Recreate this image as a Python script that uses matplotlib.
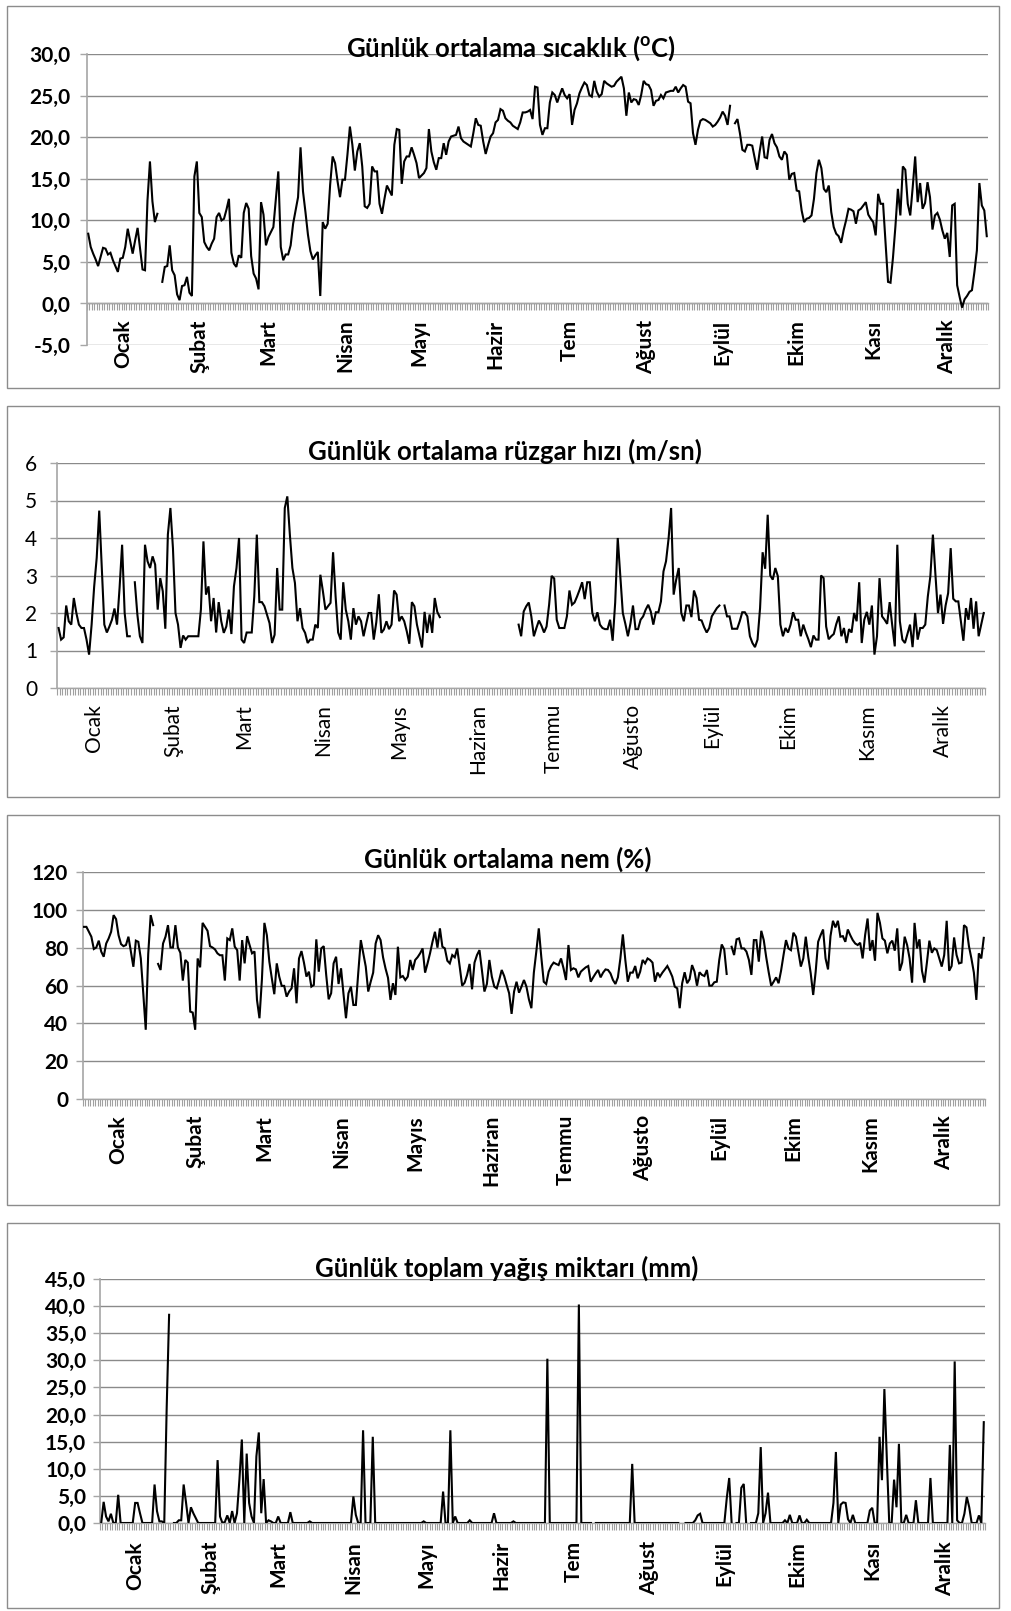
import numpy as np
import matplotlib
matplotlib.use("Agg")
import matplotlib.pyplot as plt
from matplotlib.patches import Rectangle

plt.rcParams['font.family'] = ['Lato', 'DejaVu Sans']
plt.rcParams['mathtext.fontset'] = 'custom'
plt.rcParams['mathtext.rm'] = 'Lato:bold'
plt.rcParams['mathtext.bf'] = 'Lato:bold'

N = None
# ---------------- daily data (day 0 = 1 Ocak) ----------------
temperature = [
    8.4, 6.8, 6.0, 5.3, 4.5, 5.6, 6.7, 6.6, 5.9, 6.1,
    5.2, 4.5, 3.8, 5.4, 5.5, 6.8, 9.0, 7.5, 6.0, 7.6,
    9.1, 6.6, 4.1, 4.0, 12.4, 17.1, 12.3, 9.8, 10.8, N,
    2.6, 4.4, 4.5, 7.0, 4.0, 3.4, 1.1, 0.4, 2.1, 2.2,
    3.2, 1.3, 0.9, 15.3, 17.1, 10.9, 10.4, 7.4, 6.8, 6.4,
    7.2, 7.8, 10.4, 10.9, 10.0, 10.2, 11.3, 12.6, 6.1, 4.8,
    4.4, 5.8, 5.5, 10.9, 12.1, 11.4, 5.7, 3.6, 3.0, 1.7,
    12.2, 10.7, 7.0, 8.0, 8.6, 9.2, 12.5, 15.9, 6.8, 5.2,
    5.9, 5.9, 7.0, 9.6, 11.2, 12.8, 18.8, 13.5, 11.0, 8.3,
    6.3, 5.3, 5.8, 6.2, 0.9, 9.8, 9.0, 9.6, 14.3, 17.7,
    16.9, 14.7, 12.8, 14.9, 14.9, 17.9, 21.3, 19.1, 16.0, 18.3,
    19.3, 16.5, 11.7, 11.5, 12.0, 16.5, 15.9, 15.9, 12.0, 10.8,
    12.6, 14.2, 13.6, 13.0, 19.1, 21.0, 20.9, 14.4, 17.1, 17.7,
    17.7, 18.8, 17.9, 16.9, 15.1, 15.4, 15.7, 16.3, 21.0, 18.3,
    17.0, 16.1, 17.5, 17.5, 19.3, 17.9, 19.5, 20.1, 20.2, 20.3,
    21.3, 19.9, 19.5, 19.3, 19.1, 18.9, 20.5, 22.3, 21.5, 21.4,
    19.5, 18.0, 19.1, 20.1, 20.5, 21.8, 22.1, 23.4, 23.2, 22.3,
    22.0, 21.8, 21.4, 21.2, 21.0, 21.8, 23.0, 23.0, 23.1, 23.3,
    22.2, 26.1, 26.0, 21.5, 20.3, 21.1, 21.1, 24.2, 25.4, 25.1,
    24.2, 25.1, 25.9, 25.1, 24.7, 25.2, 21.5, 23.3, 24.1, 25.3,
    26.0, 26.6, 26.3, 25.1, 24.9, 26.8, 25.5, 24.9, 25.2, 26.8,
    26.5, 26.3, 26.1, 26.2, 26.7, 27.0, 27.3, 25.9, 22.6, 25.4,
    24.2, 24.6, 24.5, 23.9, 25.1, 26.8, 26.4, 26.3, 25.7, 23.8,
    24.4, 24.5, 25.1, 24.7, 25.4, 25.5, 25.6, 25.6, 26.1, 25.4,
    25.9, 26.3, 26.1, 24.3, 24.1, 20.5, 19.1, 20.9, 22.0, 22.2,
    22.1, 21.9, 21.7, 21.3, 21.5, 21.9, 22.4, 23.1, 22.6, 21.5,
    23.8, N, 21.7, 22.2, 20.5, 18.5, 18.3, 19.1, 19.1, 19.0,
    17.5, 16.1, 18.3, 20.1, 17.6, 17.5, 19.7, 20.4, 19.3, 18.8,
    17.7, 17.3, 18.3, 17.9, 14.9, 15.6, 15.7, 13.6, 13.5, 11.2,
    9.8, 10.2, 10.3, 10.6, 12.6, 15.7, 17.3, 16.3, 13.8, 13.4,
    14.2, 11.0, 9.2, 8.4, 8.1, 7.3, 8.8, 10.0, 11.4, 11.3,
    11.1, 9.6, 11.2, 11.4, 11.8, 12.2, 10.7, 10.2, 9.8, 8.2,
    13.2, 12.0, 12.0, 7.3, 2.6, 2.5, 5.5, 9.3, 13.8, 10.6,
    16.5, 16.1, 12.0, 10.6, 14.0, 17.7, 12.2, 14.5, 11.4, 12.1,
    14.6, 12.8, 8.9, 10.6, 10.9, 10.1, 8.8, 7.8, 8.5, 5.6,
    11.8, 12.0, 2.2, 0.8, -0.5, 0.5, 0.9, 1.4, 1.6, 3.8,
    6.4, 14.5, 11.8, 11.2, 8.1,
]

wind = [
    1.6, 1.29, 1.35, 2.2, 1.78, 1.69, 2.4, 2.0, 1.69, 1.6,
    1.6, 1.29, 0.89, 1.69, 2.7, 3.47, 4.73, 3.2, 1.69, 1.48,
    1.64, 1.82, 2.12, 1.69, 2.67, 3.82, 2.0, 1.38, 1.38, N,
    2.82, 1.96, 1.38, 1.2, 3.82, 3.38, 3.2, 3.51, 3.29, 2.09,
    2.93, 2.58, 1.58, 4.09, 4.8, 3.73, 2.0, 1.69, 1.07, 1.4,
    1.29, 1.38, 1.38, 1.38, 1.38, 1.38, 2.09, 3.91, 2.49, 2.71,
    1.78, 2.4, 1.48, 2.29, 1.78, 1.47, 1.64, 2.09, 1.44, 2.71,
    3.2, 4.0, 1.29, 1.2, 1.48, 1.48, 1.48, 2.44, 4.09, 2.29,
    2.29, 2.18, 1.96, 1.73, 1.2, 1.42, 3.2, 2.09, 2.09, 4.8,
    5.11, 4.09, 3.2, 2.8, 1.78, 2.13, 1.6, 1.47, 1.2, 1.29,
    1.29, 1.69, 1.6, 3.02, 2.58, 2.09, 2.18, 2.27, 3.62, 2.44,
    1.48, 1.29, 2.82, 2.09, 1.78, 1.29, 2.13, 1.69, 1.91, 1.78,
    1.38, 1.7, 2.0, 2.0, 1.29, 1.75, 2.5, 1.47, 1.56, 1.78,
    1.57, 1.69, 2.6, 2.49, 1.78, 1.91, 1.78, 1.51, 1.18, 2.29,
    2.18, 1.69, 1.38, 1.08, 2.03, 1.47, 1.96, 1.47, 2.4, 2.03,
    1.89, N, N, N, N, N, N, N, N, N,
    N, N, N, N, N, N, N, N, N, N,
    N, N, N, N, N, N, N, N, N, N,
    N, 1.69, 1.38, 2.04, 2.18, 2.28, 1.91, 1.38, 1.6, 1.8,
    1.66, 1.48, 1.64, 2.22, 2.99, 2.92, 1.82, 1.6, 1.6, 1.6,
    1.91, 2.6, 2.22, 2.28, 2.44, 2.62, 2.82, 2.37, 2.82, 2.82,
    2.0, 1.78, 2.02, 1.69, 1.6, 1.57, 1.57, 1.82, 1.26, 2.28,
    4.0, 3.02, 2.0, 1.71, 1.38, 1.72, 2.2, 1.57, 1.57, 1.82,
    1.91, 2.09, 2.22, 2.04, 1.69, 2.02, 2.02, 2.31, 3.11, 3.38,
    3.98, 4.8, 2.49, 2.89, 3.2, 2.0, 1.78, 2.2, 2.2, 1.89,
    2.6, 2.4, 1.82, 1.8, 1.62, 1.48, 1.6, 1.91, 2.02, 2.13,
    2.2, N, 2.2, 1.91, 1.91, 1.58, 1.58, 1.58, 1.78, 2.02,
    2.02, 1.91, 1.38, 1.2, 1.09, 1.29, 2.13, 3.62, 3.18, 4.62,
    3.0, 2.89, 3.2, 2.98, 1.69, 1.38, 1.6, 1.48, 1.69, 2.02,
    1.82, 1.82, 1.38, 1.69, 1.48, 1.3, 1.09, 1.4, 1.29, 1.29,
    3.0, 2.93, 1.64, 1.3, 1.38, 1.44, 1.71, 1.91, 1.38, 1.6,
    1.2, 1.57, 1.48, 2.0, 1.78, 2.82, 1.2, 1.82, 2.03, 1.69,
    2.2, 0.89, 1.38, 2.93, 1.91, 1.82, 1.71, 2.29, 1.67, 1.11,
    3.82, 1.78, 1.29, 1.2, 1.44, 1.69, 1.09, 2.0, 1.29, 1.6,
    1.6, 1.69, 2.44, 2.98, 4.09, 3.02, 2.0, 2.49, 1.71, 2.2,
    2.53, 3.73, 2.38, 2.31, 2.31, 1.78, 1.26, 2.13, 1.82, 2.4,
    1.58, 2.31, 1.38, 1.69, 2.0,
]

humidity = [
    91.0, 91.0, 88.4, 85.8, 79.3, 80.1, 83.7, 77.9, 75.2, 82.2,
    84.9, 88.4, 97.2, 95.1, 86.6, 81.9, 80.8, 81.4, 85.8, 77.9,
    69.9, 83.7, 83.1, 74.3, 55.9, 36.6, 76.6, 97.2, 91.9, N,
    71.4, 68.2, 82.2, 85.8, 91.9, 80.1, 80.1, 91.9, 80.1, 77.3,
    62.6, 73.5, 72.1, 46.2, 45.7, 36.6, 74.3, 69.6, 93.1, 91.0,
    88.9, 80.8, 80.1, 79.1, 77.0, 76.0, 76.0, 62.6, 84.9, 84.0,
    90.2, 80.5, 78.7, 62.6, 84.0, 71.7, 86.1, 81.4, 77.0, 78.0,
    52.4, 42.7, 63.3, 93.1, 86.6, 72.6, 63.8, 55.4, 71.7, 64.7,
    59.8, 59.8, 54.1, 56.8, 58.5, 69.1, 50.6, 74.3, 78.2, 72.1,
    64.7, 67.3, 59.4, 60.3, 84.4, 67.3, 79.6, 80.8, 65.6, 52.7,
    55.9, 71.7, 75.2, 60.8, 69.1, 55.5, 42.7, 55.9, 59.4, 49.7,
    49.7, 67.3, 84.0, 77.0, 70.0, 56.8, 62.0, 66.8, 82.2, 86.6,
    84.0, 74.9, 69.0, 64.1, 52.4, 61.2, 55.0, 80.5, 64.3, 65.0,
    62.9, 64.7, 73.5, 68.2, 73.5, 75.0, 77.0, 79.6, 66.8, 71.7,
    77.0, 83.1, 88.4, 80.0, 90.2, 80.5, 79.6, 73.1, 71.7, 76.1,
    74.9, 79.6, 70.0, 59.9, 61.5, 65.6, 71.4, 58.0, 72.1, 76.1,
    78.7, 68.0, 56.8, 60.8, 73.5, 64.7, 59.4, 58.5, 63.0, 68.2,
    65.0, 60.3, 55.9, 45.0, 56.8, 62.0, 56.2, 59.4, 62.9, 59.4,
    52.7, 48.0, 66.8, 78.0, 90.2, 75.2, 62.0, 60.8, 67.3, 70.3,
    72.1, 71.4, 70.8, 74.3, 69.1, 62.9, 81.4, 68.2, 69.1, 68.5,
    64.3, 67.3, 68.5, 69.6, 70.3, 62.0, 64.3, 66.4, 68.2, 64.3,
    66.8, 68.5, 68.2, 66.4, 62.9, 60.8, 64.3, 74.3, 87.0, 73.5,
    62.0, 66.8, 66.8, 70.3, 63.8, 67.3, 73.5, 71.7, 74.3, 73.5,
    72.1, 62.0, 66.8, 64.7, 66.8, 68.5, 70.3, 67.7, 64.7, 59.4,
    58.5, 48.0, 61.2, 67.0, 61.2, 63.3, 70.8, 67.3, 59.9, 67.0,
    65.6, 65.0, 68.2, 59.9, 59.9, 61.7, 62.0, 73.5, 81.7, 79.1,
    66.1, N, 80.5, 76.1, 84.4, 84.9, 79.6, 79.6, 77.9, 73.5,
    65.6, 84.0, 84.0, 72.6, 88.9, 84.0, 74.9, 67.0, 59.9, 62.0,
    64.3, 61.2, 67.8, 76.1, 84.0, 79.6, 78.7, 87.9, 85.8, 77.9,
    70.0, 74.3, 85.8, 75.2, 66.4, 55.0, 67.3, 83.1, 86.6, 89.6,
    74.3, 68.5, 86.1, 94.2, 90.7, 94.2, 85.8, 86.1, 83.1, 89.6,
    86.6, 84.0, 82.2, 81.4, 82.6, 74.3, 86.6, 95.4, 78.4, 84.0,
    73.1, 98.4, 93.1, 84.9, 83.7, 77.0, 82.2, 83.7, 78.4, 90.2,
    67.8, 72.1, 85.8, 81.4, 74.3, 61.5, 93.1, 79.6, 84.4, 67.8,
    61.5, 72.1, 83.7, 77.3, 79.6, 78.7, 74.3, 70.0, 76.1, 94.2,
    67.8, 70.3, 85.4, 76.1, 71.7, 72.1, 91.9, 90.7, 80.8, 74.3,
    66.8, 52.4, 77.0, 74.3, 85.2,
]

precipitation = [
    0.0, 3.9, 1.2, 0.3, 1.7, 0.0, 0.0, 5.2, 0.0, 0.0,
    0.0, 0.0, 0.0, 0.0, 3.7, 3.7, 1.8, 0.0, 0.0, 0.0,
    0.0, 0.0, 7.1, 2.2, 0.3, 0.3, 0.0, 21.2, 38.4, N,
    0.0, 0.0, 0.5, 0.5, 7.1, 3.7, 0.0, 2.9, 1.8, 0.9,
    0.0, 0.0, 0.0, 0.0, 0.0, 0.0, 0.0, 0.0, 11.6, 1.2,
    0.0, 0.2, 1.4, 0.0, 2.2, 0.0, 1.8, 8.0, 15.4, 0.0,
    12.8, 3.7, 1.2, 0.0, 12.3, 16.7, 1.8, 8.1, 0.0, 0.5,
    0.3, 0.0, 0.0, 1.2, 0.0, 0.0, 0.0, 0.0, 2.0, 0.0,
    0.0, 0.0, 0.0, 0.0, 0.0, 0.0, 0.3, 0.0, 0.0, 0.0,
    0.0, 0.0, 0.0, 0.0, 0.0, 0.0, 0.0, 0.0, 0.0, 0.0,
    0.0, 0.0, 0.0, 0.0, 4.9, 1.5, 0.0, 0.0, 17.1, 0.0,
    0.0, 0.0, 15.9, 0.0, 0.0, 0.0, 0.0, 0.0, 0.0, 0.0,
    0.0, 0.0, 0.0, 0.0, 0.0, 0.0, 0.0, 0.0, 0.0, 0.0,
    0.0, 0.0, 0.0, 0.3, 0.0, 0.0, 0.0, 0.0, 0.0, 0.0,
    0.0, 5.8, 0.0, 0.0, 17.1, 0.0, 1.2, 0.0, 0.0, 0.0,
    0.0, 0.0, 0.5, 0.0, 0.0, 0.0, 0.0, 0.0, 0.0, 0.0,
    0.0, 0.0, 1.8, 0.0, 0.0, 0.0, 0.0, 0.0, 0.0, 0.0,
    0.3, 0.0, 0.0, 0.0, 0.0, 0.0, 0.0, 0.0, 0.0, 0.0,
    0.0, 0.0, 0.0, 0.0, 30.3, 0.0, 0.0, 0.0, 0.0, 0.0,
    0.0, 0.0, 0.0, 0.0, 0.0, 0.0, 0.0, 40.3, 0.0, 0.0,
    0.0, 0.0, 0.0, N, 0.0, 0.0, 0.0, 0.0, 0.0, 0.0,
    0.0, 0.0, 0.0, 0.0, 0.0, 0.0, 0.0, 0.0, 0.0, 10.9,
    0.0, 0.0, 0.0, 0.0, 0.0, 0.0, 0.0, 0.0, 0.0, 0.0,
    0.0, 0.0, 0.0, 0.0, 0.0, 0.0, 0.0, 0.0, 0.0, N,
    N, 0.0, 0.0, 0.0, 0.0, 0.5, 1.4, 1.7, 0.0, 0.0,
    0.0, 0.0, 0.0, 0.0, 0.0, 0.0, 0.0, 0.0, 4.6, 8.3,
    0.0, N, 0.0, 0.0, 6.5, 7.2, 0.0, N, 0.0, 0.0,
    0.0, 1.8, 14.0, 0.0, 1.8, 5.6, 0.0, 0.0, 0.0, 0.0,
    0.0, 0.0, 0.5, 0.0, 1.5, 0.0, 0.0, 0.0, 1.4, 0.0,
    0.0, 0.6, 0.0, 0.0, 0.0, 0.0, 0.0, 0.0, 0.0, 0.0,
    0.0, 0.0, 3.7, 13.1, 0.0, 3.4, 3.8, 3.7, 0.7, 0.0,
    1.5, 0.0, 0.0, 0.0, 0.0, 0.0, 0.0, 2.3, 2.8, 0.0,
    0.0, 15.9, 7.9, 24.7, 12.0, 0.0, 0.0, 8.0, 2.9, 14.6,
    0.0, 0.0, 1.5, 0.0, 0.0, 0.0, 4.2, 0.0, 0.0, 0.0,
    0.0, 0.0, 8.3, 0.0, 0.0, 0.0, 0.0, 0.0, 0.0, 0.0,
    14.4, 0.0, 29.8, 0.5, 0.0, 0.0, 1.7, 4.8, 2.9, 0.0,
    0.0, 0.0, 1.4, 0.0, 18.6,
]

# month label texts (as truncated in each panel) placed at the 15th of each month
label_days = [14, 45, 73, 104, 134, 165, 195, 226, 257, 287, 318, 348]
months_short = ["Ocak", "Şubat", "Mart", "Nisan", "Mayı", "Hazir", "Tem",
                "Ağust", "Eylül", "Ekim", "Kası", "Aralık"]
months_long = ["Ocak", "Şubat", "Mart", "Nisan", "Mayıs", "Haziran", "Temmu",
               "Ağusto", "Eylül", "Ekim", "Kasım", "Aralık"]

titles = ["Günlük ortalama sıcaklık ($^{\\mathrm{o}}$C)",
          "Günlük ortalama rüzgar hızı (m/sn)",
          "Günlük ortalama nem (%)",
          "Günlük toplam yağış miktarı (mm)"]

W, H = 1011, 1611
fig = plt.figure(figsize=(W / 100, H / 100), dpi=100)

GRID = '#8a8a8a'
AXC = '#a6a6a6'
TICK_FS = 15
TITLE_FS = 18.5


def frame(y0, y1, x0=7, x1=999):
    fig.add_artist(Rectangle((x0 / W, 1 - y1 / H), (x1 - x0) / W, (y1 - y0) / H,
                             transform=fig.transFigure, fill=False,
                             ec='#8c8c8c', lw=1.0))


def panel(rect, series, ylim, ystep, yfmt, labels, bold, title, title_pos,
          ypad, xpad, cross_zero=False):
    x0, y0, x1, y1 = rect
    ax = fig.add_axes([x0 / W, 1 - y1 / H, (x1 - x0) / W, (y1 - y0) / H])
    for s in ['top', 'right']:
        ax.spines[s].set_visible(False)
    ax.spines['left'].set_color(AXC)
    ax.spines['left'].set_linewidth(1.2)
    ax.spines['bottom'].set_color(AXC)
    ax.spines['bottom'].set_linewidth(1.0)
    if cross_zero:
        ax.spines['bottom'].set_position(('data', 0))

    vals = np.array(series, dtype=float)
    assert len(vals) == 365, len(vals)
    days = np.arange(len(vals))
    ax.plot(days, vals, color='black', lw=1.5, solid_joinstyle='miter', zorder=3)
    ax.set_xlim(-0.5, 364.5)
    ax.set_ylim(*ylim)
    weight = 'bold' if bold else 'normal'

    yt = np.arange(ylim[0], ylim[1] + ystep / 2, ystep)
    ax.set_yticks(yt)
    ax.set_yticklabels([yfmt(v) for v in yt], fontsize=TICK_FS, fontweight=weight)
    ax.yaxis.grid(True, color=GRID, lw=1.0, zorder=0)
    ax.set_axisbelow(True)
    ax.tick_params(axis='y', direction='out', length=5, width=1.0, color=AXC,
                   pad=ypad)

    ax.set_xticks(np.arange(-0.5, 365, 1.0), minor=True)
    ax.set_xticks(label_days)
    ax.set_xticklabels(labels, rotation=90, fontsize=TICK_FS, fontweight=weight)
    ax.tick_params(axis='x', which='major', length=0, pad=xpad)
    ax.tick_params(axis='x', which='minor', direction='out', length=5,
                   width=0.8, color='#a0a0a0')
    ax.patch.set_alpha(0)
    fig.text(title_pos[0] / W, 1 - title_pos[1] / H, title, ha='center',
             va='baseline', fontsize=TITLE_FS, fontweight='bold')
    return ax


def comma1(v):
    return f"{v:.1f}".replace('.', ',')


def integer(v):
    return f"{int(round(v))}"


frame(6, 388)
frame(406, 797)
frame(815, 1205)
frame(1223, 1608)

panel((87, 54.3, 988, 345), temperature, (-5, 30), 5, comma1, months_short,
      True, titles[0], (511, 57), 7, 11.5, cross_zero=True)
panel((57.3, 463, 985, 688), wind, (0, 6), 1, integer, months_long,
      False, titles[1], (505, 460), 9.5, 11.5)
panel((82.7, 872, 985, 1099), humidity, (0, 120), 20, integer, months_long,
      True, titles[2], (508, 868), 5.5, 11.5)
panel((100, 1279, 985, 1523), precipitation, (0, 45), 5, comma1, months_short,
      True, titles[3], (507, 1277), 5, 13)

fig.savefig("out.png", dpi=100, facecolor='white')
